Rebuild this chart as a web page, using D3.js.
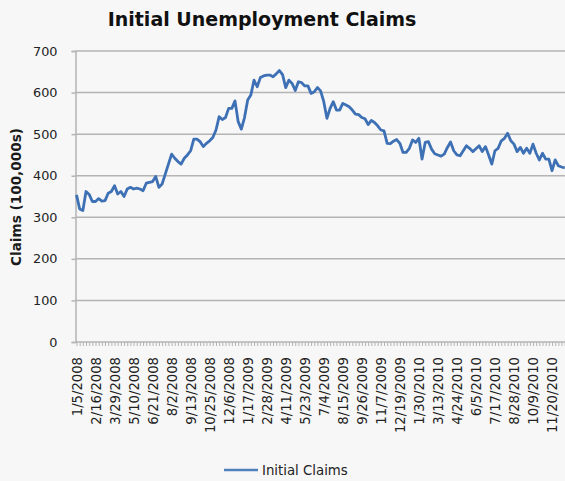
<!DOCTYPE html>
<html>
<head>
<meta charset="utf-8">
<script src="https://cdn.jsdelivr.net/npm/d3@7"></script>
<style>
  html, body { margin: 0; padding: 0; background: #f7f7f7; }
  svg { display: block; font-family: "DejaVu Sans", Verdana, sans-serif; }
</style>
</head>
<body>
<svg id="chart" width="565" height="481"></svg>
<script>
// Weekly initial unemployment claims, week ending 1/5/2008 onward
const firstWeek = "2008-01-05";
const claims = [
  354, 320, 316, 362, 355, 338, 338, 345, 339, 340,
  358, 362, 376, 356, 362, 350, 368, 372, 368, 370,
  368, 364, 382, 384, 386, 398, 372, 380, 404, 428,
  452, 442, 434, 428, 442, 450, 460, 488, 488, 482,
  470, 478, 484, 492, 510, 542, 535, 540, 562, 562,
  580, 530, 512, 540, 582, 594, 630, 614, 636, 640,
  642, 642, 638, 645, 653, 643, 612, 630, 622, 605,
  626, 624, 616, 616, 598, 602, 612, 604, 578, 538,
  562, 578, 558, 558, 574, 570, 566, 558, 548, 547,
  540, 537, 523, 533, 528, 520, 510, 508, 478, 477,
  483, 487, 478, 456, 456, 466, 486, 480, 490, 440,
  480, 482, 464, 453, 450, 447, 452, 468, 481, 460,
  450, 448, 460, 472, 466, 458, 465, 472, 458, 470,
  450, 428, 460, 466, 484, 490, 502, 484, 476, 458,
  468, 454, 466, 454, 476, 454, 438, 454, 440, 440,
  412, 438, 424, 421, 419
];
const tickLabels = [
  "1/5/2008", "2/16/2008", "3/29/2008", "5/10/2008", "6/21/2008",
  "8/2/2008", "9/13/2008", "10/25/2008", "12/6/2008", "1/17/2009",
  "2/28/2009", "4/11/2009", "5/23/2009", "7/4/2009", "8/15/2009",
  "9/26/2009", "11/7/2009", "12/19/2009", "1/30/2010", "3/13/2010",
  "4/24/2010", "6/5/2010", "7/17/2010", "8/28/2010", "10/9/2010",
  "11/20/2010"
];
const yTicks = [0, 100, 200, 300, 400, 500, 600, 700];
const chartTitle = "Initial Unemployment Claims";
const yTitle = "Claims (100,000s)";
const seriesName = "Initial Claims";

(function draw() {
  // Week labels in m/d/yyyy form
  const start = d3.timeParse("%Y-%m-%d")(firstWeek);
  const fmt = d => `${d.getMonth() + 1}/${d.getDate()}/${d.getFullYear()}`;
  const weeks = claims.map((_, i) => fmt(d3.timeDay.offset(start, 7 * i)));
  const rows = weeks.map((w, i) => ({ week: w, value: claims[i] }));

  const svg = d3.select("#chart");
  const plotLeft = 75.5, plotRight = 564.7, plotTop = 51, plotBottom = 342;

  const x = d3.scalePoint().domain(weeks).range([plotLeft + 1, plotRight]);
  const y = d3.scaleLinear().domain([0, 700]).range([plotBottom, plotTop]);

  const gridColor = "#b4b4b4";
  const textColor = "#222";

  // Horizontal gridlines
  svg.append("g")
    .selectAll("line")
    .data(yTicks.filter(t => t > 0))
    .join("line")
    .attr("x1", plotLeft).attr("x2", 565)
    .attr("y1", d => y(d)).attr("y2", d => y(d))
    .attr("stroke", gridColor).attr("stroke-width", 1.5);

  // Y axis
  const yAxis = svg.append("g")
    .attr("transform", `translate(${plotLeft},0)`)
    .call(d3.axisLeft(y).tickValues(yTicks).tickSize(4).tickPadding(14));
  yAxis.select(".domain").attr("stroke", gridColor).attr("stroke-width", 1.5);
  yAxis.selectAll(".tick line").attr("stroke", gridColor).attr("stroke-width", 1.5);
  yAxis.selectAll(".tick text")
    .attr("font-size", 12.8).attr("fill", textColor)
    .attr("font-family", "DejaVu Sans, Verdana, sans-serif");

  // X axis: one tick per week, labels every sixth week
  const xAxis = svg.append("g")
    .attr("transform", `translate(0,${plotBottom})`)
    .call(d3.axisBottom(x).tickSize(4).tickFormat(""));
  xAxis.select(".domain").attr("stroke", gridColor).attr("stroke-width", 1.5)
    .attr("d", `M${plotLeft},0H565`);
  xAxis.selectAll(".tick line").attr("stroke", gridColor).attr("stroke-width", 1);

  svg.append("g")
    .selectAll("text")
    .data(tickLabels)
    .join("text")
    .attr("transform", d => `translate(${x(d) + 0.5},${plotBottom + 15}) rotate(-90)`)
    .attr("text-anchor", "end")
    .attr("dy", "0.35em")
    .attr("font-size", 13.2)
    .attr("fill", textColor)
    .text(d => d);

  // Series line
  svg.append("path")
    .datum(rows)
    .attr("fill", "none")
    .attr("stroke", "#3d70b4")
    .attr("stroke-width", 2.8)
    .attr("stroke-linejoin", "round")
    .attr("d", d3.line().x(d => x(d.week)).y(d => y(d.value)));

  // Titles
  svg.append("text")
    .attr("x", 262).attr("y", 26)
    .attr("text-anchor", "middle")
    .attr("font-size", 19).attr("font-weight", "bold").attr("fill", "#111")
    .text(chartTitle);

  svg.append("text")
    .attr("transform", `translate(21,197) rotate(-90)`)
    .attr("text-anchor", "middle")
    .attr("font-size", 13.6).attr("font-weight", "bold").attr("fill", "#1a1a1a")
    .text(yTitle);

  // Legend
  const legend = svg.append("g").attr("transform", "translate(224,470)");
  legend.append("line")
    .attr("x1", 0).attr("x2", 34).attr("y1", 0).attr("y2", 0)
    .attr("stroke", "#4f81bd").attr("stroke-width", 2.6);
  legend.append("text")
    .attr("x", 38).attr("y", 0).attr("dy", "0.35em")
    .attr("font-size", 13.3).attr("fill", textColor)
    .text(seriesName);
})();
</script>
</body>
</html>
